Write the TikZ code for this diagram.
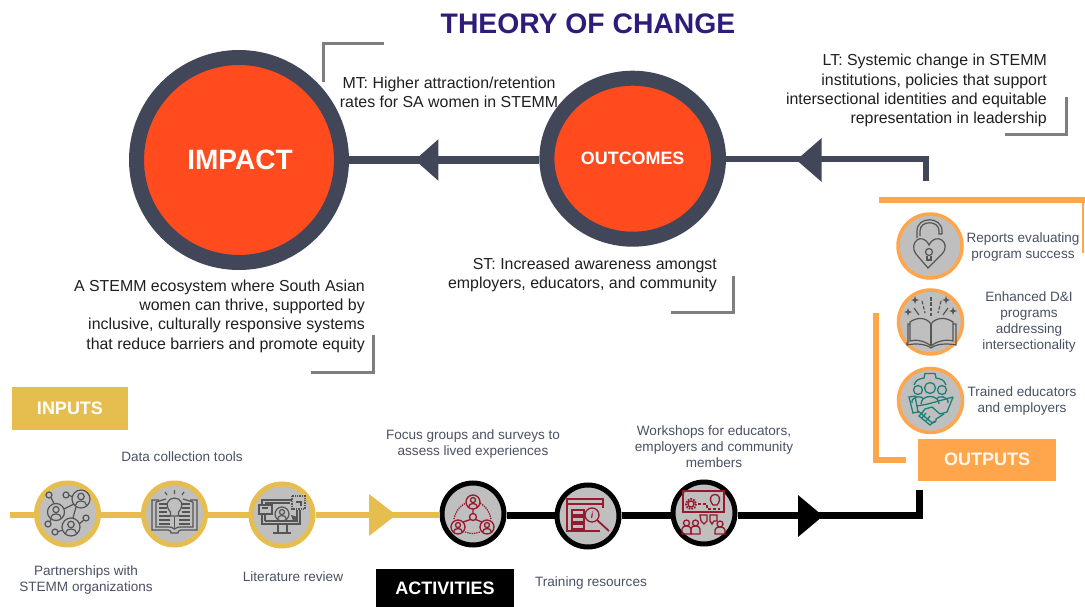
\documentclass[tikz,border=0pt]{standalone}
\usepackage{fontspec}
\usetikzlibrary{shapes.geometric}
\setmainfont{Liberation Sans}
\definecolor{ringdark}{HTML}{414758}
\definecolor{fire}{HTML}{FF4B1E}
\definecolor{titlepurple}{HTML}{2F1C7A}
\definecolor{oran}{HTML}{FFA64D}
\definecolor{yell}{HTML}{E6BE50}
\definecolor{greyfill}{HTML}{BFBFBF}
\definecolor{brk}{HTML}{7F7F7F}
\definecolor{slatetxt}{HTML}{4A5164}
\definecolor{icongrey}{HTML}{555555}
\definecolor{maroon}{HTML}{96192D}
\definecolor{teal2}{HTML}{1E7F78}
\newcommand{\person}[3]{% x y r
  \draw (#1,#2) circle (#3);
  \draw (#1,#2-#3*0.28) circle (#3*0.36);
  \draw (#1-#3*0.62,#2+#3*0.72) .. controls (#1-#3*0.62,#2+#3*0.05) and (#1+#3*0.62,#2+#3*0.05) .. (#1+#3*0.62,#2+#3*0.72);
}
\newcommand{\lowered}[1]{\raisebox{-1pt}{#1}}
\tikzset{
  bigring/.style={ellipse,draw=ringdark,fill=fire,line width=15pt,inner sep=0pt,text=white},
  stepnode/.style={circle,fill=greyfill,minimum size=62pt,inner sep=0pt},
  yellstep/.style={stepnode,draw=yell,line width=5pt},
  blackstep/.style={stepnode,draw=black,line width=5pt},
  orstep/.style={stepnode,draw=oran,line width=3.5pt,minimum size=64pt},
  bracket/.style={draw=brk,line width=3pt},
  bodytext/.style={align=right,font=\fontsize{15.9}{19.3}\selectfont,text=black!88,inner sep=0pt},
  smalltext/.style={align=center,font=\fontsize{13.55}{16.1}\selectfont,text=slatetxt,inner sep=0pt},
  tag/.style={font=\bfseries\fontsize{18}{20}\selectfont,inner sep=0pt},
  darkline/.style={draw=ringdark},
  yellline/.style={draw=yell,line width=6pt},
  blackline/.style={draw=black,line width=7pt},
  orline/.style={draw=oran,line width=6pt},
  greyicon/.style={draw=icongrey,line width=1.2pt,fill=none},
  maroonicon/.style={draw=maroon,line width=1.3pt,fill=none},
  tealicon/.style={draw=teal2,line width=1.3pt,fill=none},
}
\begin{document}
\begin{tikzpicture}[x=1pt,y=-1pt]
\useasboundingbox (0,0) rectangle (1085,607);
\fill[white] (0,0) rectangle (1085,607);
\node[font=\bfseries\fontsize{28.3}{32}\selectfont,text=titlepurple,inner sep=0pt] (title) at (588,24) {THEORY OF CHANGE};

\coordinate (cornerR) at (926,159);
\coordinate (stubR) at (926,181);
\coordinate (headA) at (415,160);
\coordinate (headB) at (796.5,160);
\coordinate (midL) at (400,160);

\node[bigring,minimum width=205pt,minimum height=205pt,font=\bfseries\fontsize{28}{32}\selectfont] (impact) at (239,160) {\hspace{2pt}\lowered{IMPACT}};
\node[bigring,minimum width=171.6pt,minimum height=161pt,font=\bfseries\fontsize{17.9}{20}\selectfont] (outcomes) at (632.7,158.7) {OUTCOMES};
\path[darkline,line width=8pt] (outcomes.west |- midL) -- (impact.east |- midL);
\path[darkline,line width=6.7pt] (stubR) -- (cornerR) -- (outcomes.east |- cornerR);
\fill[ringdark] (headA) -- ++(23.3,-20.7) -- ++(0,41.4) -- cycle;
\fill[ringdark] (headB) -- ++(25.2,-22) -- ++(0,44) -- cycle;

% text top
\node[bodytext,align=center,anchor=center] (mt) at (449,92.5) {MT: Higher attraction/retention\\rates for SA women in STEMM};
\node[bodytext,anchor=north east] (lt) at (1047,54) {LT: Systemic change in STEMM\\institutions, policies that support\\intersectional identities and equitable\\representation in leadership};
\node[bodytext,align=right,anchor=north east] (st) at (717,257.5) {ST: Increased awareness amongst\\employers, educators, and community};
\node[bodytext,anchor=north east] (imp) at (365,279.5) {A STEMM ecosystem where South Asian\\women can thrive, supported by\\inclusive, culturally responsive systems\\that reduce barriers and promote equity};

% brackets
\draw[bracket] (323,82) -- (323,44) -- (384,44);
\draw[bracket] (1005,135) -- (1066,135) -- (1066,97);
\draw[bracket] (671,312) -- (733,312) -- (733,276);
\draw[bracket] (311,372) -- (373,372) -- (373,335);

% tags
\node[tag,fill=yell,text=white,minimum width=116pt,minimum height=43pt] (inputs) at (70,408.5) {\lowered{INPUTS}};
\node[tag,fill=black,text=white,minimum width=138pt,minimum height=39pt] (activities) at (445,588.5) {\lowered{ACTIVITIES}};
\node[tag,fill=oran,text=white!92!oran,minimum width=138pt,minimum height=42pt] (outputs) at (987,459.5) {\lowered{OUTPUTS}};

% bottom steps
\node[yellstep] (i1) at (67.5,514) {};
\node[yellstep] (i2) at (174.5,514) {};
\node[yellstep] (i3) at (282,515) {};
\node[blackstep] (a1) at (473,514) {};
\node[blackstep] (a2) at (588,516) {};
\node[blackstep] (a3) at (704,513) {};
\node[orstep] (o1) at (930,246) {};
\node[orstep] (o2) at (930.5,322) {};
\node[orstep] (o3) at (930.5,400.5) {};

\coordinate (yStart) at (10,515);
\coordinate (bCorner) at (919,515.5);
\coordinate (bEnd) at (919,490);
\path[yellline] (yStart) -- (i1.west |- yStart);
\path[yellline] (i1.east |- yStart) -- (i2.west |- yStart);
\path[yellline] (i2.east |- yStart) -- (i3.west |- yStart);
\path[yellline] (i3.east |- yStart) -- (a1.west |- yStart);
\path[blackline] (a1.east |- bCorner) -- (a2.west |- bCorner);
\path[blackline] (a2.east |- bCorner) -- (a3.west |- bCorner);
\path[blackline] (a3.east |- bCorner) -- (bCorner) -- (bEnd);
\coordinate (tipY) at (396,515);
\coordinate (tipK) at (823,516);
\fill[yell] (tipY) -- ++(-27,-21) -- ++(0,42) -- cycle;
\fill[black] (tipK) -- ++(-25,-21) -- ++(0,42) -- cycle;

% outputs lines
\draw[orline] (879,200) -- (1085,200);
\draw[oran,line width=2.2pt] (1083,200) -- (1083,253);
\draw[orline] (876,313) -- (876,460) -- (906,460);

% bottom labels
\node[smalltext] (l1) at (86,580) {Partnerships with\\STEMM organizations};
\node[smalltext] (l2) at (182,456.5) {Data collection tools};
\node[smalltext] (l3) at (293,576.5) {Literature review};
\node[smalltext] (l4) at (473,444) {Focus groups and surveys to\\assess lived experiences};
\node[smalltext] (l5) at (591,583) {Training resources};
\node[smalltext] (l6) at (714,446.5) {Workshops for educators,\\employers and community\\members};
\node[smalltext] (l7) at (1023,247) {Reports evaluating\\program success};
\node[smalltext] (l8) at (1029,322) {Enhanced D\&I\\programs\\addressing\\intersectionality};
\node[smalltext] (l9) at (1022,401) {Trained educators\\and employers};

% partnerships
\begin{scope}[greyicon]
 \person{56}{512}{8.5}\person{81}{499}{9}\person{71}{527}{9}
 \draw (49,495) circle (3) (66,495) circle (3) (86,518) circle (3) (48,524) circle (3) (55,532) circle (3);
 \draw (51,497.5)--(54,503.5) (69,495.5)--(72,496.5) (64,509)--(74,504) (76,507)--(73,518) (84,520)--(79,524) (50,522)--(51,519) (58,531.5)--(62,530.5);
\end{scope}
% book + bulb
\begin{scope}[greyicon]
 \draw (159,500) -- (152,500) -- (152,530) -- (168,530) .. controls (171,530) and (171,532) .. (171,533) -- (178,533) .. controls (178,532) and (178,530) .. (181,530) -- (197,530) -- (197,500) -- (190,500);
 \draw (156,502) -- (156,527) -- (166,527) .. controls (170,527) and (173,527) .. (174.5,529) .. controls (176,527) and (179,527) .. (183,527) -- (193,527) -- (193,502);
 \draw (156,502) -- (166,499) (193,502) -- (183,499);
 \foreach \y in {504,508,512} {\draw (159,\y)--(167,\y) (182,\y)--(190,\y);}
 \foreach \y in {516,520,524} {\draw (159,\y)--(170,\y) (179,\y)--(190,\y);}
 \draw (174.5,517)--(174.5,529);
 \draw (170.5,512) .. controls (164,505) and (168,498) .. (174.5,498) .. controls (181,498) and (185,505) .. (178.5,512) -- (178.5,516) -- (170.5,516) -- cycle;
 \draw (174.5,490)--(174.5,494) (165,492)--(167,495) (184,492)--(182,495);
\end{scope}
% monitor
\begin{scope}[greyicon]
 \draw (262,505) -- (262,500) -- (292,500) (300,510) -- (300,524) -- (262,524) -- (262,514);
 \draw (265,521)--(297,521)  (265,503) -- (290,503);
 \draw (265,515) -- (265,521) (297,510) -- (297,521);
 \draw (278,524)--(278,532) (287,524)--(287,532) (273,533)--(291,533);
 \draw (259,505) rectangle (272,514);
 \draw (262,508)--(268,508);
 \person{282}{514}{7}
 \draw[densely dotted,line width=1.4pt] (292,496) rectangle (305,509);
 \draw (296,502) -- (301,502) -- (301,506);
 \draw[line width=1.4pt] (295,519)--(298,522);
 \fill[icongrey] (291,515)--(297.5,517)--(293,521)--cycle;
\end{scope}
% focus groups
\begin{scope}[maroonicon]
 \person{473}{502}{7}\person{458}{527}{7}\person{487}{527}{7}
 \draw (473,517) circle (3.5);
 \draw (473,509)--(473,513.5) (470.5,519.5)--(463,522) (475.5,519.5)--(482,522);
 \draw[densely dotted] (454,519) .. controls (456,510) and (460,506) .. (466,503);
 \draw[densely dotted] (491,519) .. controls (489,510) and (485,506) .. (480,503);
 \draw[densely dotted] (465,532) .. controls (472,534) and (474,534) .. (480,532);
\end{scope}
% training
\begin{scope}[maroonicon]
 \draw (600,531) -- (567,531) -- (567,499) -- (603,499) -- (603,508);
 \draw (567,504)--(603,504);
 \draw (572,510) rectangle (584,515) (572,517) rectangle (584,522) (572,524) rectangle (584,529);
 \draw (592,515) circle (7);
 \draw[line width=1.8pt] (597,520) -- (609,531);
 \node[text=maroon,font=\bfseries\itshape\fontsize{9}{9}\selectfont,inner sep=0pt] (infoI) at (592,515) {i};
\end{scope}
% workshops
\begin{scope}[maroonicon]
 \draw (683,491) rectangle (724,512);
 \draw (691,504) circle (3);
 \draw[dash pattern=on 1.6pt off 1.2pt,line width=2pt] (691,504) circle (5);
 \draw[densely dashed] (698,504)--(707,504)--(707,509)--(720,509);
 \draw (713,505) .. controls (708,499) and (711,494.5) .. (715,494.5) .. controls (719,494.5) and (722,499) .. (717,505) -- cycle;
 \draw (700,515) -- (707,515) -- (707,521) -- (704,524) -- (701,521) -- cycle;
 \draw (710,515) -- (717,515) -- (717,521) -- (714,521) -- (712,524) -- (710,521) -- cycle;
 \draw (682,534) -- (682,529) .. controls (682,525) and (691,525) .. (691,529) -- (691,534) -- cycle;
 \draw (691,534) -- (691,529) .. controls (691,525) and (700,525) .. (700,529) -- (700,534) -- cycle;
 \draw (686.5,523) circle (3) (695.5,523) circle (3);
 \draw (715,534) -- (715,530) .. controls (715,526) and (725,526) .. (725,530) -- (725,534) -- cycle;
 \draw (720,524) circle (3);
\end{scope}
% lock heart
\begin{scope}[greyicon]
 \draw (928,268) -- (916,254) .. controls (908,243) and (922,231) .. (929,245) .. controls (936,231) and (952,243) .. (942,254) -- cycle;
 \draw (917,238) -- (917,231) .. controls (917,216) and (942,216) .. (942,231) -- (942,234);
 \draw (920,236) -- (920,231) .. controls (920,220) and (939,220) .. (939,231) -- (939,234) -- (942,234);
 \draw (929,252) circle (3.5);
 \draw (927,255.5)--(927,260)--(931,260)--(931,255.5);
\end{scope}
% open book
\begin{scope}[greyicon]
 \draw (931,346) .. controls (925,341) and (916,339) .. (910,341) -- (910,322) .. controls (917,317) and (926,317) .. (931,324) .. controls (936,317) and (946,317) .. (953,322) -- (953,341) .. controls (946,339) and (937,341) .. (931,346) -- cycle;
 \draw (931,324)--(931,346);
 \draw (910,324)--(908,324)--(908,343) -- (907,343) -- (907,345) .. controls (916,343) and (926,344) .. (931,348) .. controls (936,344) and (946,343) .. (956,345) -- (956,324) -- (953,324);
 \draw[dash pattern=on 3.5pt off 1.8pt] (931,297)--(931,316);
 \draw[dash pattern=on 3.5pt off 1.8pt] (922,301)--(925,313);
 \draw[dash pattern=on 3.5pt off 1.8pt] (941,301)--(938,313);
 \draw (914,308)--(919,315) (948,308)--(943,315);
 \fill[icongrey] (915,296) -- (916,299) -- (919,300) -- (916,301) -- (915,304) -- (914,301) -- (911,300) -- (914,299) -- cycle;
 \fill[icongrey] (946,296) -- (947,299) -- (950,300) -- (947,301) -- (946,304) -- (945,301) -- (942,300) -- (945,299) -- cycle;
 \fill[icongrey] (908,308) -- (909,311) -- (912,312) -- (909,313) -- (908,316) -- (907,313) -- (904,312) -- (907,311) -- cycle;
 \fill[icongrey] (953,307) -- (954,310) -- (957,311) -- (954,312) -- (953,315) -- (952,312) -- (949,311) -- (952,310) -- cycle;
\end{scope}
% handshake + people
\begin{scope}[tealicon]
 \draw (918,390) circle (4.5) (930,388) circle (5.5) (942,390) circle (4.5);
 \draw (912,403) .. controls (911,396) and (922,395) .. (923.5,399) (921,404) .. controls (921,394) and (939,394) .. (939,404) (936.5,399) .. controls (938,395) and (949,396) .. (948,403);
 \draw (914,385) .. controls (916,379) and (920,379) .. (924,378) -- (925,373.5) -- (935,373.5) -- (936,378) .. controls (940,379) and (944,379) .. (946,385);
 \draw (909,397) -- (915,396) -- (918,412) -- (913,413) -- cycle;
 \draw (953,397) -- (947,412) -- (940,414) -- (932,407) -- (925,409) -- (921,414);
 \draw (953,397) -- (928,404) -- (917,406);
 \draw (918,411) -- (931,422) .. controls (934,424) and (937,421) .. (936,419) -- (944,414);
 \draw (923,412) -- (919,416) -- (930,425) -- (935,421);
 \draw (926,413) -- (922,418) (930,416) -- (926,421);
\end{scope}
\end{tikzpicture}
\end{document}
